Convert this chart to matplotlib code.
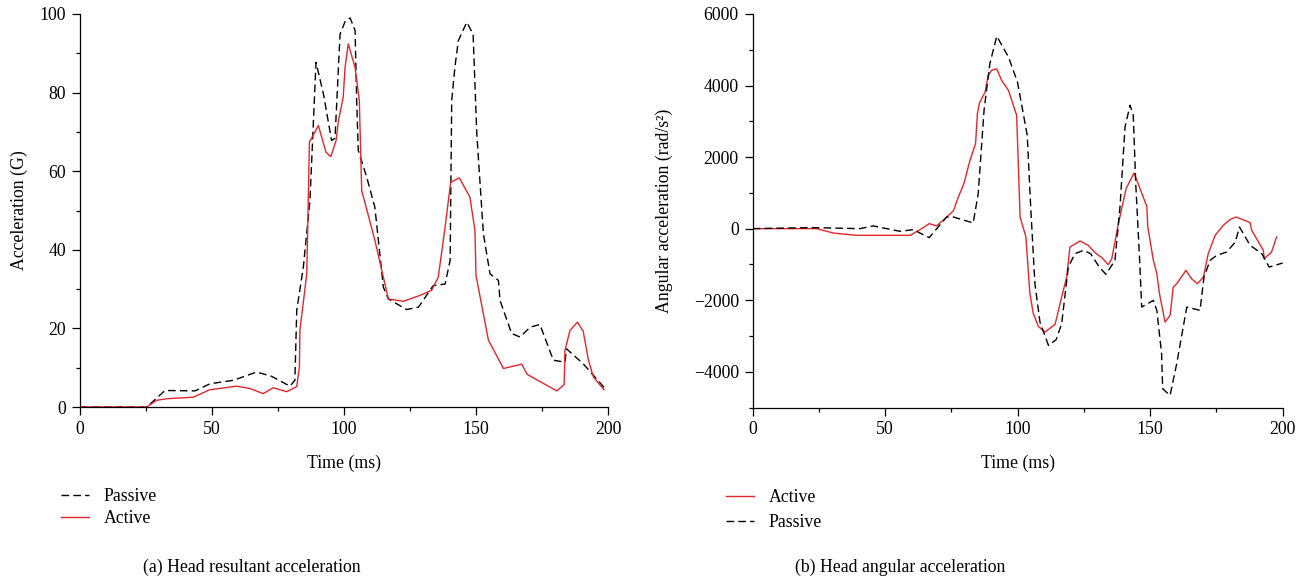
import numpy as np
import matplotlib
matplotlib.use("Agg")
import matplotlib.pyplot as plt
from matplotlib.ticker import MultipleLocator

plt.rcParams.update({
    "font.family": ["Liberation Serif", "DejaVu Serif"],
    "font.size": 12.8,
    "axes.linewidth": 0.9,
})

RED = "#e3262d"

# (a) head resultant acceleration (G)
t_res_passive = [0, 25.3, 32.2, 43.6, 49.2, 58.1, 66.9, 72.6, 79.5, 81.4, 82.1, 84.6, 87.1,
                 88.1, 89.4, 92.2, 95.3, 96.6, 98.5, 100.5, 102.3, 104.2, 104.8, 105.4, 108.6,
                 111.7, 114.9, 116.8, 123.7, 128.2, 133.8, 138.3, 140.2, 140.8, 142.0, 143.3,
                 146.5, 148.9, 150.3, 152.8, 155.3, 158.5, 159.1, 163.5, 166.7, 170.5, 174.2,
                 179.3, 183.7, 184.3, 190.6, 198.5]
g_res_passive = [0, 0, 4.2, 4.1, 5.9, 6.8, 8.9, 7.8, 5.3, 6.8, 24.6, 35.6, 52.5,
                 67.8, 87.7, 79.7, 67.8, 68.4, 94.9, 98.2, 99.0, 95.8, 78.0, 65.3, 58.5,
                 50.8, 30.5, 27.5, 24.8, 25.4, 30.9, 31.3, 37.3, 78.0, 86.4, 93.2,
                 97.9, 94.9, 69.5, 44.1, 33.9, 32.2, 27.1, 18.7, 17.8, 20.3, 21.0,
                 11.9, 11.4, 14.8, 11.0, 5.0]
t_res_active = [0, 25.3, 29.0, 32.8, 42.9, 49.2, 59.3, 64.4, 69.4, 73.2, 78.3, 82.1, 83.1,
                83.3, 85.9, 86.9, 90.3, 93.2, 95.0, 97.0, 97.9, 99.7, 100.4, 101.6, 104.2,
                105.8, 106.7, 111.7, 116.8, 122.5, 128.8, 133.2, 135.7, 138.3, 140.4, 143.7,
                147.7, 149.6, 150.0, 154.7, 160.4, 167.3, 169.4, 180.6, 183.4, 183.7, 185.6,
                188.4, 190.6, 192.6, 194.5, 198.5]
g_res_active = [0, 0, 1.7, 2.1, 2.5, 4.4, 5.3, 4.7, 3.4, 4.9, 3.9, 5.2, 10.2,
                19.5, 33.9, 67.4, 71.6, 64.8, 63.7, 67.8, 72.9, 78.8, 86.4, 92.4, 86.4,
                78.0, 55.1, 42.4, 27.5, 26.9, 28.4, 29.7, 33.0, 45.8, 57.2, 58.3,
                53.4, 44.9, 33.5, 17.0, 9.8, 10.9, 8.3, 4.1, 5.7, 14.4, 19.5,
                21.6, 19.3, 11.9, 7.6, 4.4]

# (b) head angular acceleration (rad/s^2)
t_ang_active = [0, 24.2, 30.4, 39.2, 59.4, 63.8, 66.6, 69.4, 73.2, 75.7, 77.6, 79.7, 82.0,
                84.1, 84.8, 85.5, 87.7, 88.9, 90.2, 92.1, 93.9, 96.5, 99.6, 100.9, 103.1,
                104.6, 105.9, 107.8, 110.3, 114.1, 116.6, 118.5, 119.7, 123.5, 126.6, 129.2,
                131.7, 134.2, 135.5, 138.0, 140.9, 143.9, 148.7, 149.1, 151.2, 152.5, 153.5,
                155.6, 157.5, 158.7, 160.0, 163.5, 165.6, 167.8, 170.1, 171.9, 174.5, 177.6,
                180.1, 182.4, 187.7, 188.3, 192.7, 193.0, 195.8, 197.7]
a_ang_active = [0, 0, -123, -187, -187, 0, 140, 75, 326, 494, 885, 1258, 1911,
                2378, 3217, 3496, 3822, 4288, 4428, 4465, 4148, 3868, 3169, 326, -233,
                -1818, -2378, -2733, -2891, -2677, -1912, -1353, -513, -345, -466, -672,
                -811, -1007, -839, 140, 1119, 1555, 624, 45, -887, -1259, -1818,
                -2612, -2426, -1633, -1540, -1166, -1400, -1540, -1353, -699, -187, 93,
                252, 326, 168, -47, -606, -839, -653, -233]
t_ang_passive = [0, 22.3, 40.5, 45.5, 55.6, 60.6, 66.6, 73.2, 75.7, 83.2, 85.1, 87.3, 89.5,
                 92.1, 96.5, 99.9, 103.6, 104.9, 106.5, 108.4, 111.6, 114.5, 116.6, 119.1,
                 121.6, 124.8, 127.5, 130.8, 133.3, 136.7, 138.6, 140.5, 142.4, 143.6, 144.6,
                 145.9, 146.8, 151.2, 152.5, 154.3, 154.7, 157.5, 160.0, 163.8, 168.8, 170.3,
                 172.6, 175.1, 178.9, 182.1, 183.7, 187.7, 192.1, 194.9, 200.0]
a_ang_passive = [0, 28, 0, 75, -75, -28, -252, 326, 326, 159, 979, 3309, 4615,
                 5379, 4800, 4101, 2610, 605, -1540, -2612, -3264, -3105, -2657, -1074,
                 -699, -606, -699, -1074, -1278, -887, 605, 2842, 3449, 3169, 1166,
                 -699, -2192, -2005, -2285, -3496, -4475, -4662, -3776, -2192, -2285, -1353,
                 -887, -746, -653, -373, 45, -466, -699, -1074, -961]

W, H = 1309, 582
fig = plt.figure(figsize=(W / 100, H / 100), dpi=100)
axA = fig.add_axes([80 / W, 1 - 407 / H, 528 / W, 393 / H])
axB = fig.add_axes([752.7 / W, 1 - 407.5 / H, 530 / W, 393.5 / H])

dash = (5.5, 3)

def style(ax):
    for s in ("top", "right"):
        ax.spines[s].set_visible(False)
    ax.tick_params(which="major", direction="out", length=6, width=0.9, pad=4)
    ax.tick_params(which="minor", direction="out", length=3, width=0.9)
    ax.set_xlim(0, 200)
    ax.xaxis.set_major_locator(MultipleLocator(50))
    ax.xaxis.set_minor_locator(MultipleLocator(25))
    ax.set_xlabel("Time (ms)", labelpad=12)

# left panel
axA.plot(t_res_passive, g_res_passive, color="black", lw=1.0, dashes=dash, label="Passive")
axA.plot(t_res_active, g_res_active, color=RED, lw=1.0, label="Active")
style(axA)
axA.set_ylim(0, 100)
axA.yaxis.set_major_locator(MultipleLocator(20))
axA.yaxis.set_minor_locator(MultipleLocator(10))
axA.set_ylabel("Acceleration (G)", labelpad=8)
axA.legend(loc="upper left", bbox_to_anchor=(61 / W, 1 - 488 / H),
           bbox_transform=fig.transFigure, frameon=False, borderpad=0,
           handlelength=1.6, handletextpad=0.8, labelspacing=0.28, borderaxespad=0)

# right panel
axB.plot(t_ang_active, a_ang_active, color=RED, lw=1.0, label="Active")
axB.plot(t_ang_passive, a_ang_passive, color="black", lw=1.0, dashes=dash, label="Passive")
style(axB)
axB.set_ylim(-5000, 6000)
axB.yaxis.set_major_locator(MultipleLocator(2000))
axB.yaxis.set_minor_locator(MultipleLocator(1000))
axB.set_yticklabels([f"{int(v)}".replace("-", "\u2212") for v in axB.get_yticks()])
axB.set_ylabel("Angular acceleration (rad/s\u00b2)", labelpad=15)
axB.legend(loc="upper left", bbox_to_anchor=(726 / W, 1 - 489 / H),
           bbox_transform=fig.transFigure, frameon=False, borderpad=0,
           handlelength=1.6, handletextpad=0.8, labelspacing=0.45, borderaxespad=0)

fig.text(252 / W, 1 - 567 / H, "(a) Head resultant acceleration", ha="center", va="center")
fig.text(900 / W, 1 - 567 / H, "(b) Head angular acceleration", ha="center", va="center")

fig.savefig("out.png", dpi=100)
plt.close(fig)
